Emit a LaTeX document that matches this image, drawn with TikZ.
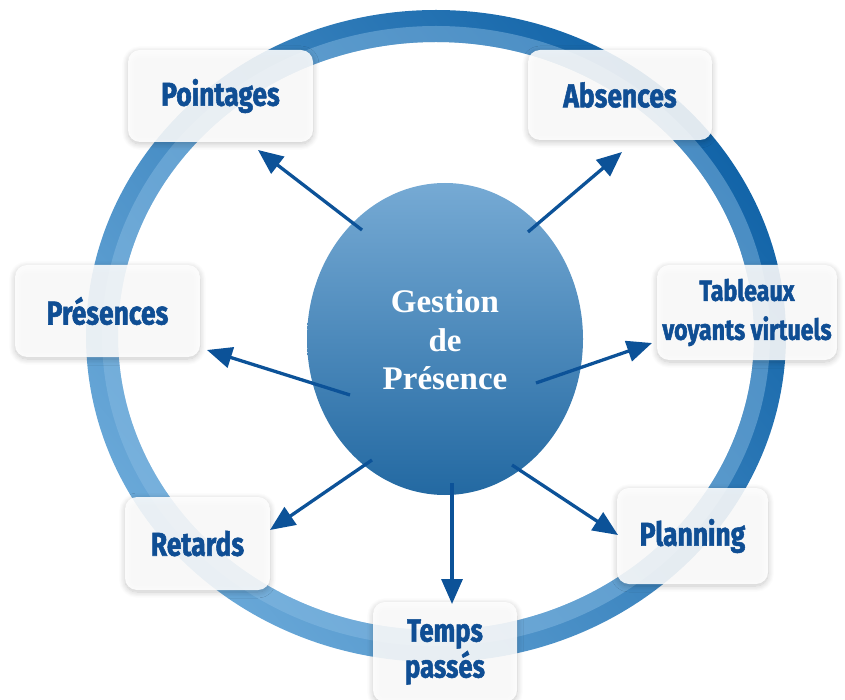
\documentclass[tikz,border=0pt]{standalone}
\usepackage{fontspec}
\usetikzlibrary{arrows.meta,shadows.blur,shapes.geometric}
\newfontfamily\boxfont[FakeStretch=0.8,FakeBold=1.6]{Fira Sans}
\newfontfamily\centerfont{Liberation Serif}
\definecolor{arrowblue}{RGB}{12,82,152}
\definecolor{boxtext}{RGB}{15,78,148}
\definecolor{circtop}{RGB}{118,170,212}
\definecolor{circbot}{RGB}{35,105,162}
\definecolor{ringdark}{RGB}{18,100,168}
\definecolor{ringlight}{RGB}{105,168,216}
\definecolor{ringhl}{RGB}{140,190,228}
\tikzset{
  boxnode/.style={rounded corners=12pt, fill=white, fill opacity=0.88, text opacity=1,
    blur shadow={shadow blur steps=10, shadow xshift=0pt, shadow yshift=-2pt, shadow opacity=25, shadow blur radius=6pt},
    inner sep=0pt, align=center, text=boxtext,
    font=\boxfont\bfseries\fontsize{33}{38}\selectfont},
  arr/.style={draw=arrowblue, line width=3.3pt, -{Triangle[length=25pt,width=21pt]}}
}
\begin{document}
\begin{tikzpicture}[x=1pt,y=-1pt]
\useasboundingbox (0,0) rectangle (845,700);
% ring
\shade[even odd rule, top color=ringdark, bottom color=ringlight, shading angle=-50]
  (436,336) ellipse [x radius=350pt, y radius=326pt]
  (436,336) ellipse [x radius=318pt, y radius=294pt];
\fill[even odd rule, ringhl, fill opacity=0.45]
  (436,336) ellipse [x radius=334pt, y radius=310pt]
  (436,336) ellipse [x radius=318pt, y radius=294pt];
% central circle
\node[ellipse, minimum width=276pt, minimum height=312pt, inner sep=0pt,
  top color=circtop, bottom color=circbot, draw=none] (center) at (445,339) {};
\node[text=white, align=center, font=\centerfont\bfseries\fontsize{33}{38.5}\selectfont] (ctext) at (445,340) {Gestion\\de\\Présence};
% boxes
\node[boxnode, minimum width=185pt, minimum height=92pt] (pointages) at (220.5,96) {Pointages};
\node[boxnode, minimum width=184pt, minimum height=90pt] (absences) at (620,95) {Absences};
\node[boxnode, minimum width=185pt, minimum height=92pt] (presences) at (107.5,311) {Présences};
\node[boxnode, minimum width=180pt, minimum height=95pt, font=\boxfont\bfseries\fontsize{29}{39}\selectfont] (tableaux) at (747,312.5) {Tableaux\\voyants virtuels};
\node[boxnode, minimum width=145pt, minimum height=93pt] (retards) at (197.5,543.5) {Retards};
\node[boxnode, minimum width=151pt, minimum height=96pt] (planning) at (692.5,536) {Planning};
\node[boxnode, minimum width=144pt, minimum height=100pt, font=\boxfont\bfseries\fontsize{32}{36}\selectfont] (temps) at (445,652) {Temps\\passés};
% arrow ends
\coordinate (s1) at (362,230); \coordinate (e1) at (258,150);
\coordinate (s2) at (528,232); \coordinate (e2) at (622,152);
\coordinate (s3) at (350,395); \coordinate (e3) at (207,350);
\coordinate (s4) at (536,383); \coordinate (e4) at (652,343);
\coordinate (s5) at (372,460); \coordinate (e5) at (270,530);
\coordinate (s6) at (452,483); \coordinate (e6) at (452,604);
\coordinate (s7) at (512,465); \coordinate (e7) at (618,535);
\draw[arr] (s1) -- (e1);
\draw[arr] (s2) -- (e2);
\draw[arr] (s3) -- (e3);
\draw[arr] (s4) -- (e4);
\draw[arr] (s5) -- (e5);
\draw[arr] (s6) -- (e6);
\draw[arr] (s7) -- (e7);
\end{tikzpicture}
\end{document}
